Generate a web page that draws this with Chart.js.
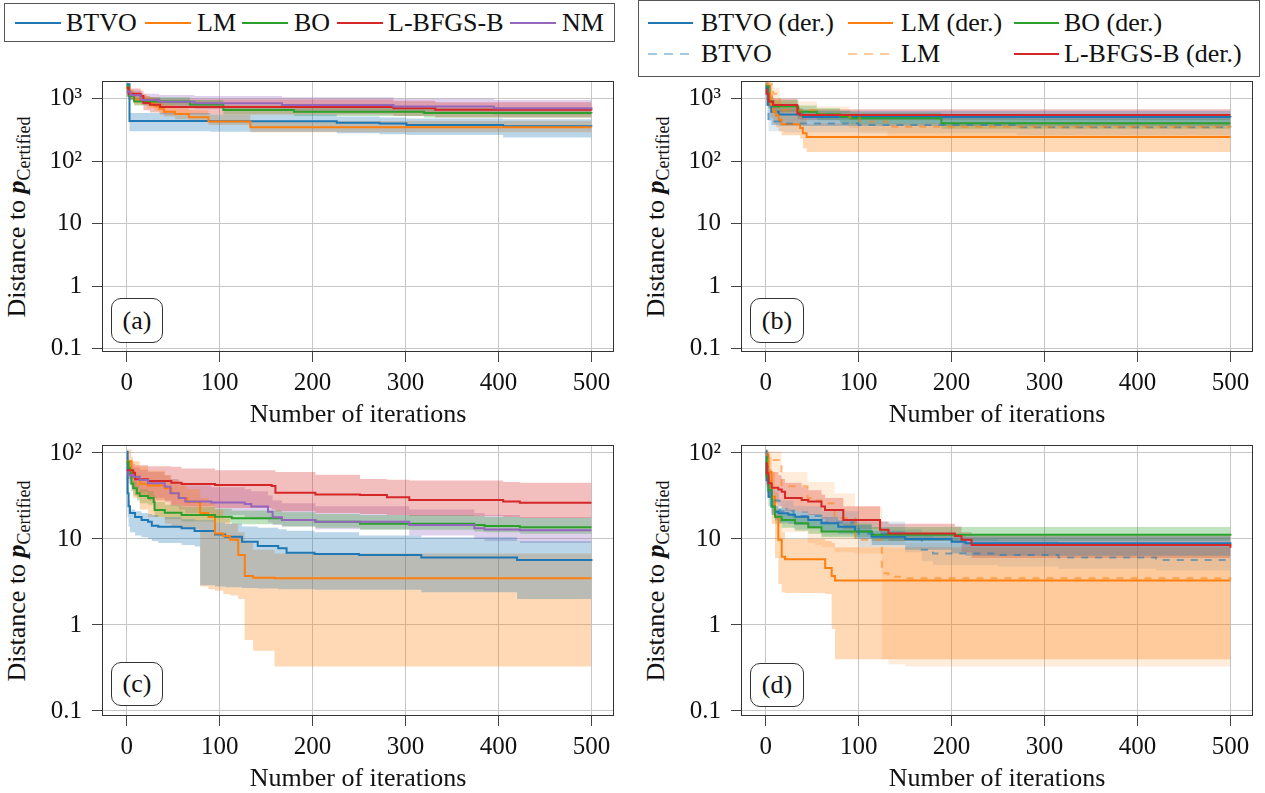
<!DOCTYPE html>
<html>
<head>
<meta charset="utf-8">
<script src="https://cdn.jsdelivr.net/npm/chart.js@4.4.1/dist/chart.umd.min.js"></script>
<style>
  body { margin: 0; width: 1265px; height: 793px; overflow: hidden; background: #fff;
         font-family: "Liberation Serif", serif; color: #111; position: relative; }
  canvas { position: absolute; }
  .legend { position: absolute; border: 1px solid #555; box-sizing: border-box; }
  .sw { position: absolute; height: 2px; }
  .lbl { position: absolute; font-size: 26px; line-height: 1; white-space: nowrap; transform: translateY(-50%); }
  .xtitle { position: absolute; font-size: 26px; line-height: 1; white-space: nowrap; transform: translate(-50%, -50%); }
  .ytitle { position: absolute; font-size: 26px; line-height: 1; white-space: nowrap; transform: translate(-50%, -50%) rotate(-90deg); }
  .ytitle sub { font-size: 18px; vertical-align: -5px; }
  .tag { position: absolute; border: 1px solid #333; border-radius: 10px; box-sizing: border-box;
         font-size: 26px; display: flex; align-items: center; justify-content: center; background: #fff; }
</style>
</head>
<body>

<div class="legend" style="left:4px;top:3px;width:611px;height:39px;">
  <div class="sw" style="left:10px;top:18px;width:46px;background:rgb(31,119,180)"></div>
  <div class="lbl" style="left:61px;top:19px">BTVO</div>
  <div class="sw" style="left:140px;top:18px;width:46px;background:rgb(255,127,14)"></div>
  <div class="lbl" style="left:192px;top:19px">LM</div>
  <div class="sw" style="left:237px;top:18px;width:46px;background:rgb(44,160,44)"></div>
  <div class="lbl" style="left:289px;top:19px">BO</div>
  <div class="sw" style="left:332px;top:18px;width:46px;background:rgb(214,39,40)"></div>
  <div class="lbl" style="left:383px;top:19px">L-BFGS-B</div>
  <div class="sw" style="left:505px;top:18px;width:46px;background:rgb(148,103,189)"></div>
  <div class="lbl" style="left:557px;top:19px">NM</div>
</div>

<div class="legend" style="left:638px;top:0px;width:622px;height:77px;">
  <div class="sw" style="left:9px;top:21px;width:45px;background:rgb(31,119,180)"></div>
  <div class="lbl" style="left:62px;top:22px">BTVO (der.)</div>
  <div class="sw" style="left:209px;top:21px;width:45px;background:rgb(255,127,14)"></div>
  <div class="lbl" style="left:262px;top:22px">LM (der.)</div>
  <div class="sw" style="left:375px;top:21px;width:45px;background:rgb(44,160,44)"></div>
  <div class="lbl" style="left:425px;top:22px">BO (der.)</div>
  <div class="sw" style="left:9px;top:52px;width:45px;background:repeating-linear-gradient(90deg, rgba(31,119,180,0.4) 0 9px, transparent 9px 16px)"></div>
  <div class="lbl" style="left:62px;top:53px">BTVO</div>
  <div class="sw" style="left:209px;top:52px;width:45px;background:repeating-linear-gradient(90deg, rgba(255,127,14,0.4) 0 9px, transparent 9px 16px)"></div>
  <div class="lbl" style="left:262px;top:53px">LM</div>
  <div class="sw" style="left:375px;top:52px;width:45px;background:rgb(214,39,40)"></div>
  <div class="lbl" style="left:425px;top:53px">L-BFGS-B (der.)</div>
</div>

<canvas id="ca"></canvas>
<canvas id="cb"></canvas>
<canvas id="cc"></canvas>
<canvas id="cd"></canvas>

<div class="ytitle" style="left:18px;top:217px">Distance to <b><i>p</i></b><sub>Certified</sub></div>
<div class="ytitle" style="left:657px;top:217px">Distance to <b><i>p</i></b><sub>Certified</sub></div>
<div class="ytitle" style="left:18px;top:581px">Distance to <b><i>p</i></b><sub>Certified</sub></div>
<div class="ytitle" style="left:657px;top:581px">Distance to <b><i>p</i></b><sub>Certified</sub></div>

<div class="xtitle" style="left:358px;top:414px">Number of iterations</div>
<div class="xtitle" style="left:997px;top:414px">Number of iterations</div>
<div class="xtitle" style="left:358px;top:778px">Number of iterations</div>
<div class="xtitle" style="left:997px;top:778px">Number of iterations</div>

<div class="tag" style="left:111px;top:298px;width:52px;height:45px">(a)</div>
<div class="tag" style="left:750px;top:298px;width:54px;height:45px">(b)</div>
<div class="tag" style="left:111px;top:662px;width:52px;height:44px">(c)</div>
<div class="tag" style="left:750px;top:663px;width:54px;height:44px">(d)</div>

<script>
// axis ticks
const xTicks = [0, 100, 200, 300, 400, 500];
const yTicksTop = [0.1, 1, 10, 100, 1000];
const yLabelsTop = ['0.1', '1', '10', '10²', '10³'];
const yTicksBottom = [0.1, 1, 10, 100];
const yLabelsBottom = ['0.1', '1', '10', '10²'];

// ---- panel (a) ----
const aBtvoIt = [0, 3, 90, 226, 272, 301, 405, 500];
const aBtvoMid = [1700, 440, 435, 410, 400, 380, 362, 360];
const aBtvoHi = [1800, 590, 560, 520, 500, 480, 470, 460];
const aBtvoLo = [1500, 300, 295, 280, 270, 262, 240, 238];

const aLmIt = [0, 3, 8, 22, 30, 35, 40, 52, 67, 88, 133, 500];
const aLmMid = [1500, 1150, 960, 850, 760, 690, 620, 570, 505, 430, 348, 348];
const aLmHi = [1700, 1400, 1200, 1050, 950, 870, 800, 720, 650, 560, 440, 430];
const aLmLo = [1300, 950, 800, 700, 640, 580, 520, 470, 430, 380, 290, 285];

const aBoIt = [0, 2, 8, 68, 104, 180, 320, 500];
const aBoMid = [1600, 1100, 900, 810, 660, 620, 590, 585];
const aBoHi = [1800, 1300, 1050, 950, 780, 730, 700, 690];
const aBoLo = [1400, 950, 780, 700, 560, 530, 500, 495];

const aLbIt = [0, 2, 15, 18, 25, 36, 287, 332, 500];
const aLbMid = [1500, 1200, 1100, 850, 800, 735, 700, 665, 650];
const aLbHi = [1750, 1450, 1350, 1100, 1050, 980, 930, 880, 860];
const aLbLo = [1250, 1000, 900, 650, 600, 560, 530, 500, 490];

const aNmIt = [0, 4, 15, 35, 73, 167, 287, 395, 500];
const aNmMid = [1300, 1130, 950, 895, 845, 795, 750, 700, 680];
const aNmHi = [1500, 1350, 1200, 1150, 1100, 1050, 1000, 950, 930];
const aNmLo = [1100, 950, 800, 740, 690, 640, 600, 560, 545];

// ---- panel (b) ----
const bBtvoDIt = [0, 2, 6, 14, 40, 500];
const bBtvoDMid = [1500, 800, 620, 560, 510, 505];
const bBtvoDHi = [1800, 1000, 800, 700, 640, 630];
const bBtvoDLo = [1200, 450, 380, 370, 365, 360];

const bLmDIt = [0, 5, 8, 11, 14, 17, 37, 40, 44, 500];
const bLmDMid = [1600, 800, 620, 540, 460, 390, 340, 280, 244, 244];
const bLmDHi = [1900, 1200, 1000, 900, 800, 700, 600, 500, 400, 380];
const bLmDLo = [1300, 500, 400, 350, 300, 260, 230, 160, 140, 138];

const bBoDIt = [0, 3, 8, 35, 55, 80, 91, 189, 500];
const bBoDMid = [1600, 900, 750, 620, 565, 515, 485, 405, 405];
const bBoDHi = [1900, 1100, 950, 780, 700, 640, 600, 500, 500];
const bBoDLo = [1300, 700, 600, 500, 450, 410, 390, 330, 330];

const bBtvoIt = [0, 3, 20, 100, 270, 500];
const bBtvoMid = [1500, 430, 400, 380, 350, 348];
const bBtvoHi = [1800, 600, 550, 520, 480, 470];
const bBtvoLo = [1200, 300, 290, 280, 260, 255];

const bLmIt = [0, 8, 15, 55, 90, 101, 131, 500];
const bLmMid = [1700, 1200, 650, 560, 500, 430, 356, 348];
const bLmHi = [2000, 1500, 900, 750, 650, 560, 500, 480];
const bLmLo = [1200, 700, 420, 380, 340, 300, 250, 245];

const bLbDIt = [0, 1, 3, 8, 34, 37, 500];
const bLbDMid = [1400, 1200, 900, 790, 580, 548, 548];
const bLbDHi = [1700, 1500, 1150, 1000, 720, 680, 676];
const bLbDLo = [1150, 950, 700, 600, 470, 456, 456];

// ---- panel (c) ----
const cBtvoIt = [0, 1, 2, 3.5, 9, 16, 23, 27, 34, 59, 73, 79, 95, 106, 124, 141, 163, 172, 202, 250, 317, 420, 500];
const cBtvoMid = [103, 34, 24, 20, 18, 16.6, 15.9, 14.3, 13.9, 13.3, 12.4, 12.4, 11.3, 10.6, 9.3, 8.3, 7.8, 6.9, 6.7, 6.5, 6.1, 5.7, 5.55];
const cBtvoHi = [110, 40, 28, 22, 21, 20, 19.5, 19, 18, 17, 16.5, 16.5, 15.5, 15, 14, 13.5, 13, 12.5, 12, 11, 10.5, 9.5, 9.2];
const cBtvoLo = [95, 18, 14, 12, 11, 10.5, 10, 9.5, 9, 8.5, 8.2, 2.9, 2.8, 2.75, 2.7, 2.65, 2.6, 2.6, 2.57, 2.57, 2.4, 2.0, 1.94];

const cLmIt = [0, 5, 7, 14, 23, 41, 48, 56, 65, 79, 88, 95, 104, 111, 120, 127, 136, 159, 500];
const cLmMid = [80, 60, 53, 44, 42, 39, 34, 30, 27, 20, 18, 11.6, 10.8, 9.8, 6.5, 3.7, 3.55, 3.5, 3.5];
const cLmHi = [110, 90, 80, 70, 62, 55, 48, 42, 38, 30, 26, 22, 18, 15, 12, 9, 7.5, 6.8, 6.5];
const cLmLo = [70, 40, 30, 22, 18, 15, 14, 13.5, 13, 2.8, 2.6, 2.5, 2.3, 2.2, 2.0, 0.67, 0.5, 0.33, 0.33];

const cBoIt = [0, 2, 3.5, 5, 7, 11, 14, 23, 29, 30, 41, 59, 95, 113, 167, 203, 251, 374, 385, 423, 500];
const cBoMid = [79, 66, 58, 44, 39, 34, 31.6, 30, 27, 21.8, 20.2, 19, 18.2, 17.4, 16.6, 15.9, 15, 14.5, 14.2, 13.7, 13.7];
const cBoHi = [90, 80, 70, 55, 48, 42, 38, 36, 33, 27, 25, 23.5, 22.5, 21.5, 20.5, 19.5, 19, 18.5, 18, 17.5, 17.5];
const cBoLo = [70, 55, 48, 36, 32, 28, 26, 25, 23, 18, 17, 16, 15.5, 14.8, 14, 13.5, 12.8, 12.2, 12, 11.5, 11.5];

const cLbIt = [0, 7, 9, 23, 48, 59, 95, 156, 160, 203, 251, 280, 304, 405, 423, 500];
const cLbMid = [63, 59, 49.5, 47.3, 45, 43.6, 42.5, 41.3, 34.5, 33, 32.5, 30.5, 28.4, 27.2, 26.4, 26.4];
const cLbHi = [80, 75, 72, 70, 69, 66, 63, 63, 60, 56, 50, 49, 48, 46, 45, 44.5];
const cLbLo = [50, 40, 32, 28, 25, 24, 23, 22, 21, 20, 19.5, 19, 18.5, 18, 17.5, 17.4];

const cNmIt = [0, 2, 7, 14, 23, 41, 47, 56, 63, 91, 127, 134, 152, 157, 167, 203, 304, 374, 385, 423, 500];
const cNmMid = [60, 55, 53, 48.5, 44.4, 40.6, 34, 30, 27.2, 26.5, 25.5, 23.8, 20.8, 17.9, 16.6, 15.9, 14.5, 13.3, 12.9, 12.6, 12.6];
const cNmHi = [75, 70, 68, 64, 60, 55, 50, 45, 42, 40, 38, 36, 32, 28, 26, 24, 22, 20, 19, 18, 18];
const cNmLo = [50, 44, 40, 35, 30, 27, 24, 22, 20, 19, 18, 17, 15.5, 14.5, 14, 13, 11, 10, 9.5, 9, 9];

// ---- panel (d) ----
const dBtvoDIt = [0, 1, 3, 6.4, 10, 13.6, 24.3, 31.5, 45.8, 60, 78, 96, 114, 150, 200, 215, 500];
const dBtvoDMid = [104, 48.5, 31, 23.8, 20.8, 19.9, 19.1, 18.2, 16.6, 15.2, 13.9, 12.2, 10.6, 10, 9.3, 8.9, 8.7];
const dBtvoDHi = [110, 60, 38, 28, 24, 23, 22, 21, 19.5, 18, 16.5, 14.5, 12.5, 11.8, 11, 10.7, 10.6];
const dBtvoDLo = [95, 35, 24, 19, 16.5, 15.5, 15, 14.5, 13.5, 12.5, 11.5, 10, 8.5, 7.5, 6.8, 6.4, 6.2];

const dLmDIt = [0, 3, 6.4, 10, 13.6, 17.2, 20.8, 64, 71, 74.5, 500];
const dLmDMid = [95, 60, 31, 18.2, 9.8, 6.2, 5.8, 4.6, 3.7, 3.3, 3.3];
const dLmDHi = [110, 90, 60, 35, 20, 12, 10, 9.5, 9, 8, 6];
const dLmDLo = [80, 40, 15, 6, 3, 2.4, 2.35, 2.3, 0.9, 0.4, 0.34];

const dBoDIt = [0, 1, 3, 6.4, 10, 17.2, 31.5, 45.8, 60, 114, 500];
const dBoDMid = [90, 53, 37, 23.8, 18.2, 16.6, 15.2, 13.7, 12.2, 11.2, 10.9];
const dBoDHi = [100, 65, 45, 30, 22, 20, 18, 16.5, 15, 13.8, 13.5];
const dBoDLo = [80, 42, 30, 19, 15, 13.5, 12.5, 11.5, 10.5, 9.5, 9.3];

const dBtvoIt = [0, 2, 6, 15, 30, 60, 100, 150, 168, 180, 250, 315, 420, 500];
const dBtvoMid = [100, 45, 28, 21, 18.5, 15.5, 11.5, 10, 7.5, 6.8, 6.5, 6.1, 5.7, 5.6];
const dBtvoHi = [110, 60, 38, 28, 24, 21, 16, 13, 11, 10, 9.5, 9, 8.8, 8.7];
const dBtvoLo = [90, 32, 20, 15, 13, 11, 8, 7, 5.5, 5, 4.8, 4.5, 4.3, 4.2];

const dLmIt = [0, 3, 17, 45, 53, 60, 74, 96, 125, 132, 150, 500];
const dLmMid = [100, 83, 41, 30, 28, 26, 17.5, 9.8, 4.0, 3.65, 3.5, 3.4];
const dLmHi = [110, 105, 60, 46, 46, 46, 34, 23.8, 12, 10, 9, 8];
const dLmLo = [80, 40, 12, 9, 8.5, 8, 7, 6.8, 0.4, 0.35, 0.33, 0.32];

const dLbDIt = [0, 1, 3, 6.4, 13.6, 17.2, 20.8, 38.7, 45.8, 60, 63.8, 83.5, 123, 132, 203.5, 210.7, 221.5, 500];
const dLbDMid = [76, 58, 44.4, 39.5, 37.7, 35.5, 30, 28.4, 27.2, 23.8, 21.8, 16.6, 12.8, 11.6, 10.8, 9.8, 8.5, 7.9];
const dLbDHi = [85, 75, 65, 60, 55, 50, 45, 40, 37, 33, 30, 24, 16, 15, 14, 12, 11, 10.6];
const dLbDLo = [65, 40, 30, 26, 24, 23, 21, 20, 19, 17, 15, 13, 10, 9.5, 9, 7, 6, 5.2];

// colours (tab10)
const BLUE = '31,119,180', ORANGE = '255,127,14', GREEN = '44,160,44', RED = '214,39,40', PURPLE = '148,103,189';

Chart.defaults.font.family = '"Liberation Serif", serif';
Chart.defaults.color = '#111';

function series(it, mid, lo, hi, rgb, order, dashed) {
    const xy = ys => it.map((x, i) => ({ x: x, y: ys[i] }));
    const hidden = { stepped: true, pointRadius: 0, borderColor: 'rgba(0,0,0,0)', borderWidth: 1, order: 50 };
    return [
        Object.assign({}, hidden, { data: xy(hi), fill: false }),
        Object.assign({}, hidden, { data: xy(lo), fill: '-1', backgroundColor: 'rgba(' + rgb + ',' + (dashed ? 0.15 : 0.3) + ')' }),
        {
            data: xy(mid), stepped: true, pointRadius: 0, fill: false,
            borderColor: 'rgba(' + rgb + ',' + (dashed ? 0.55 : 1) + ')',
            borderWidth: 2, borderDash: dashed ? [7, 7] : [], order: order
        }
    ];
}

const framePlugin = {
    id: 'frame',
    afterDraw: (chart) => {
        const ctx = chart.ctx;
        const a = chart.chartArea;
        ctx.save();
        ctx.strokeStyle = '#333';
        ctx.lineWidth = 1;
        ctx.strokeRect(a.left - 0.5, a.top - 0.5, a.right - a.left + 1, a.bottom - a.top + 1);
        ctx.restore();
    }
};

function makeChart(id, frame, yMin, yMax, yTicks, yLabels, datasets) {
    const [l, t, r, b] = frame;
    const leftW = 63, bottomH = 75, padTop = 6, padRight = 12;
    const canvas = document.getElementById(id);
    canvas.width = (r - l) + leftW + padRight;
    canvas.height = (b - t) + padTop + bottomH;
    canvas.style.left = (l - leftW) + 'px';
    canvas.style.top = (t - padTop) + 'px';

    const gridOpts = { color: '#c6c6c6', lineWidth: 1, tickColor: '#444', tickLength: 11, drawTicks: true };

    return new Chart(canvas, {
        type: 'line',
        data: { datasets: datasets },
        options: {
            responsive: false,
            animation: false,
            devicePixelRatio: 1,
            layout: { padding: { top: padTop, right: padRight, left: 0, bottom: 0 } },
            plugins: {
                legend: { display: false },
                tooltip: { enabled: false },
                filler: { drawTime: 'beforeDatasetsDraw' }
            },
            scales: {
                x: {
                    type: 'linear', min: -25.5, max: 523.2, bounds: 'data',
                    afterFit: (s) => { s.height = bottomH; s.paddingLeft = 0; s.paddingRight = 0; },
                    afterBuildTicks: (s) => { s.ticks = xTicks.map(v => ({ value: v })); },
                    grid: gridOpts,
                    border: { display: false },
                    ticks: { font: { size: 25 }, color: '#111', padding: 6, maxRotation: 0, callback: (v) => String(v) }
                },
                y: {
                    type: 'logarithmic', min: yMin, max: yMax, bounds: 'data',
                    afterFit: (s) => { s.width = leftW; s.paddingTop = 0; s.paddingBottom = 0; },
                    afterBuildTicks: (s) => { s.ticks = yTicks.map(v => ({ value: v })); },
                    grid: gridOpts,
                    border: { display: false },
                    ticks: { font: { size: 25 }, color: '#111', padding: 10, callback: (v, i) => yLabels[i] }
                }
            }
        },
        plugins: [framePlugin]
    });
}

makeChart('ca', [103, 82, 613, 351], 0.0912, 1850, yTicksTop, yLabelsTop, [].concat(
    series(aBtvoIt, aBtvoMid, aBtvoLo, aBtvoHi, BLUE, 5, false),
    series(aLmIt, aLmMid, aLmLo, aLmHi, ORANGE, 4, false),
    series(aBoIt, aBoMid, aBoLo, aBoHi, GREEN, 3, false),
    series(aLbIt, aLbMid, aLbLo, aLbHi, RED, 2, false),
    series(aNmIt, aNmMid, aNmLo, aNmHi, PURPLE, 1, false)
));

makeChart('cb', [742, 82, 1252, 351], 0.0912, 1850, yTicksTop, yLabelsTop, [].concat(
    series(bBtvoDIt, bBtvoDMid, bBtvoDLo, bBtvoDHi, BLUE, 6, false),
    series(bLmDIt, bLmDMid, bLmDLo, bLmDHi, ORANGE, 5, false),
    series(bBoDIt, bBoDMid, bBoDLo, bBoDHi, GREEN, 4, false),
    series(bBtvoIt, bBtvoMid, bBtvoLo, bBtvoHi, BLUE, 3, true),
    series(bLmIt, bLmMid, bLmLo, bLmHi, ORANGE, 2, true),
    series(bLbDIt, bLbDMid, bLbDLo, bLbDHi, RED, 1, false)
));

makeChart('cc', [103, 446, 613, 715], 0.0898, 120.6, yTicksBottom, yLabelsBottom, [].concat(
    series(cBtvoIt, cBtvoMid, cBtvoLo, cBtvoHi, BLUE, 5, false),
    series(cLmIt, cLmMid, cLmLo, cLmHi, ORANGE, 4, false),
    series(cBoIt, cBoMid, cBoLo, cBoHi, GREEN, 3, false),
    series(cLbIt, cLbMid, cLbLo, cLbHi, RED, 2, false),
    series(cNmIt, cNmMid, cNmLo, cNmHi, PURPLE, 1, false)
));

makeChart('cd', [742, 446, 1252, 715], 0.0898, 120.6, yTicksBottom, yLabelsBottom, [].concat(
    series(dBtvoDIt, dBtvoDMid, dBtvoDLo, dBtvoDHi, BLUE, 6, false),
    series(dLmDIt, dLmDMid, dLmDLo, dLmDHi, ORANGE, 5, false),
    series(dBoDIt, dBoDMid, dBoDLo, dBoDHi, GREEN, 4, false),
    series(dBtvoIt, dBtvoMid, dBtvoLo, dBtvoHi, BLUE, 3, true),
    series(dLmIt, dLmMid, dLmLo, dLmHi, ORANGE, 2, true),
    series(dLbDIt, dLbDMid, dLbDLo, dLbDHi, RED, 1, false)
));
</script>
</body>
</html>
